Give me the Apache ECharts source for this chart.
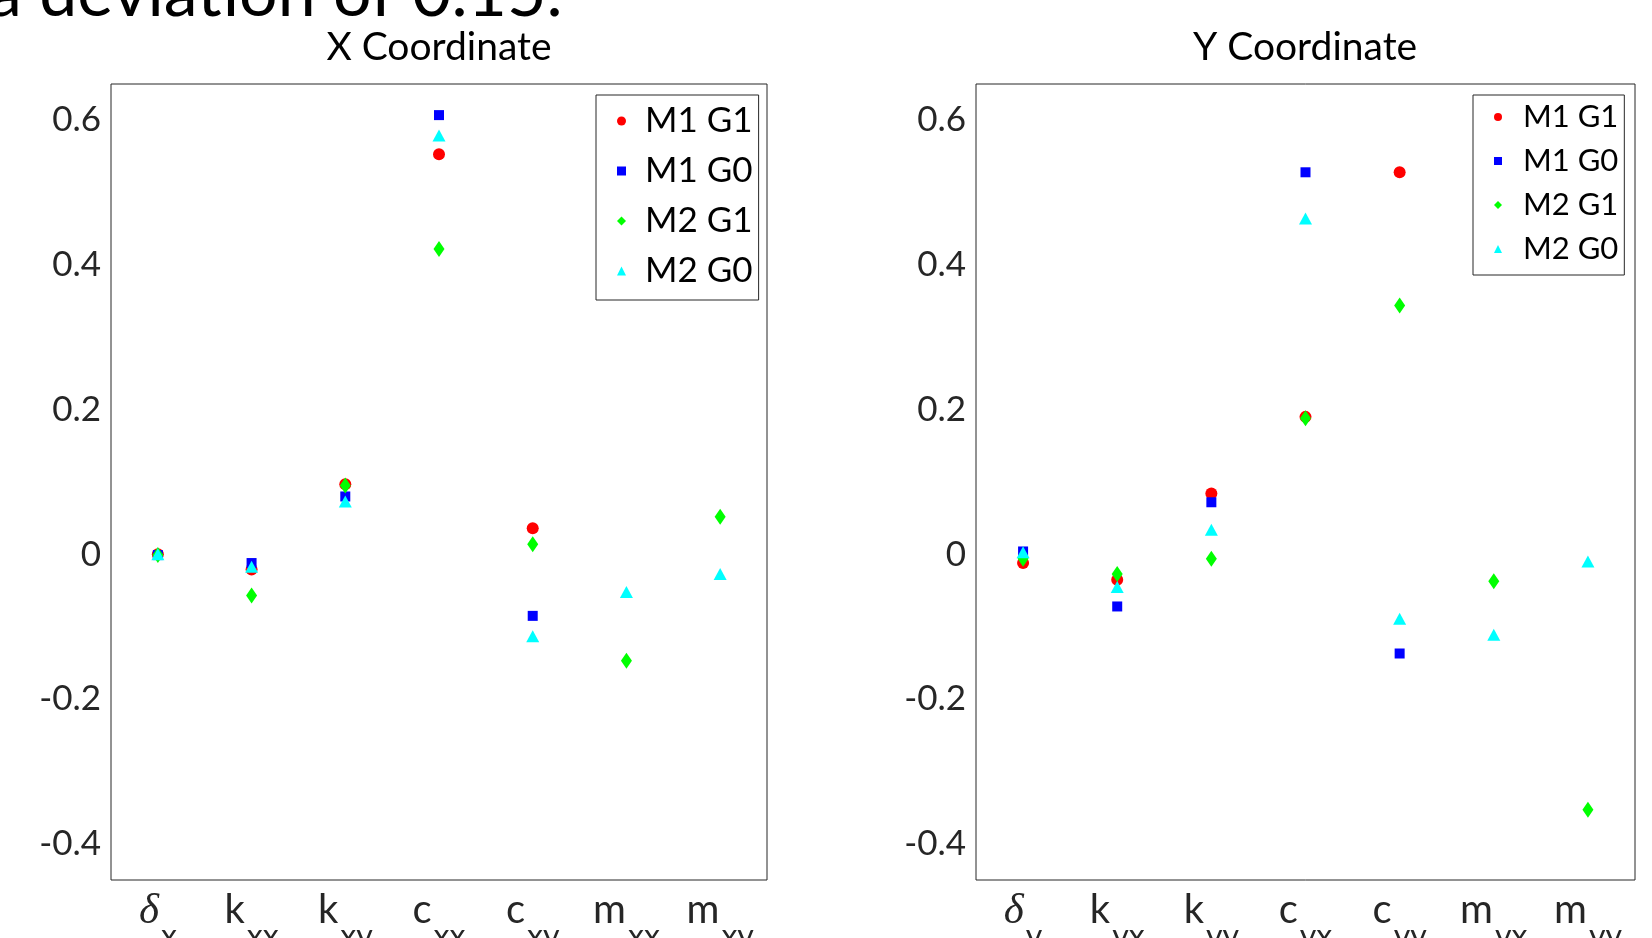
<!DOCTYPE html>
<html>
<head>
<meta charset="utf-8">
<script src="https://cdn.jsdelivr.net/npm/echarts@6/dist/echarts.min.js"></script>
<style>
html,body{margin:0;padding:0;background:#fff;}
#chart{width:1652px;height:938px;}
</style>
</head>
<body>
<div id="chart"></div>
<script>
// categories (main letter _ subscript)
var catsX = ['δ_x', 'k_xx', 'k_xy', 'c_xx', 'c_xy', 'm_xx', 'm_xy'];
var catsY = ['δ_y', 'k_yx', 'k_yy', 'c_yx', 'c_yy', 'm_yx', 'm_yy'];
var names = ['M1 G1', 'M1 G0', 'M2 G1', 'M2 G0'];

// X coordinate panel
var m1g1X = [0.000, -0.021, 0.097, 0.553, 0.036, null, null];
var m1g0X = [-0.001, -0.012, 0.080, 0.607, -0.085, null, null];
var m2g1X = [-0.001, -0.057, 0.095, 0.422, 0.014, -0.147, 0.052];
var m2g0X = [0.000, -0.017, 0.073, 0.579, -0.113, -0.052, -0.027];

// Y coordinate panel
var m1g1Y = [-0.012, -0.035, 0.084, 0.190, 0.528, null, null];
var m1g0Y = [0.004, -0.072, 0.072, 0.528, -0.137, null, null];
var m2g1Y = [-0.006, -0.027, -0.006, 0.188, 0.344, -0.037, -0.353];
var m2g0Y = [0.003, -0.045, 0.034, 0.464, -0.089, -0.111, -0.010];

var yMin = -0.45, yMax = 0.65;

var colors = ['#ff0000', '#0000ff', '#00ff00', '#00ffff'];
var symbols = ['circle', 'rect', 'diamond', 'triangle'];
var sizes = [12, 10, [11, 16], [13, 12]];
var axisColor = '#262626';
var font = 'Lato';

function clean(arr){
	return arr.map(function(v){ return v === null ? '-' : v; });
}

function xLabel(v){
	var p = v.split('_');
	var head = p[0] === 'δ' ? '{d|δ}' : '{m|' + p[0] + '}';
	return head + '{s|' + p[1] + '}';
}

function yLabel(v){
	var k = v * 5;
	if (Math.abs(k - Math.round(k)) > 1e-6) return '';
	return String(+v.toFixed(1));
}

var grids = [
	{left: 111, right: 885, top: 84, bottom: 58},
	{left: 976, right: 17, top: 84, bottom: 58}
];

var xAxes = [], yAxes = [];
[catsX, catsY].forEach(function(cats, g){
	xAxes.push({
		type: 'category', gridIndex: g, data: cats, position: 'bottom',
		axisLine: {show: false},
		axisTick: {inside: true, length: 8, alignWithLabel: true, lineStyle: {color: axisColor}},
		axisLabel: {
			margin: 10, formatter: xLabel, interval: 0,
			rich: {
				m: {fontSize: 40, fontFamily: font, color: axisColor, lineHeight: 44, verticalAlign: 'top'},
				d: {fontSize: 43, fontFamily: 'Liberation Serif', fontStyle: 'italic', color: axisColor, lineHeight: 44, verticalAlign: 'top'},
				s: {fontSize: 32, fontFamily: font, color: axisColor, lineHeight: 34, padding: [31, 0, 0, 2], verticalAlign: 'top'}
			}
		}
	});
	xAxes.push({
		type: 'category', gridIndex: g, data: cats, position: 'top',
		axisLine: {show: false},
		axisTick: {inside: true, length: 8, alignWithLabel: true, lineStyle: {color: axisColor}},
		axisLabel: {show: false}
	});
	yAxes.push({
		type: 'value', gridIndex: g, min: yMin, max: yMax, position: 'left',
		splitLine: {show: false},
		axisLine: {show: false},
		axisTick: {inside: true, length: 8, lineStyle: {color: axisColor}},
		axisLabel: {margin: 10, fontSize: 35, fontFamily: font, color: axisColor,
			showMinLabel: false, showMaxLabel: false, formatter: yLabel}
	});
	yAxes.push({
		type: 'value', gridIndex: g, min: yMin, max: yMax, position: 'right',
		splitLine: {show: false},
		axisLine: {show: false},
		axisTick: {inside: true, length: 8, lineStyle: {color: axisColor}},
		axisLabel: {show: false}
	});
});

var series = [];
[[m1g1X, m1g0X, m2g1X, m2g0X], [m1g1Y, m1g0Y, m2g1Y, m2g0Y]].forEach(function(set, g){
	set.forEach(function(arr, i){
		series.push({
			name: names[i], type: 'scatter',
			xAxisIndex: g * 2, yAxisIndex: g * 2,
			symbol: symbols[i], symbolSize: sizes[i],
			itemStyle: {color: colors[i], opacity: 1},
			data: clean(arr)
		});
	});
});

var legendData = names.map(function(n, i){ return {name: n, icon: symbols[i]}; });

var option = {
	backgroundColor: '#fff',
	animation: false,
	title: [
		{text: 'X Coordinate', left: 439, top: 28, textAlign: 'center', textVerticalAlign: 'top', padding: 0,
			textStyle: {fontSize: 39, fontWeight: 'normal', fontFamily: font, color: '#000'}},
		{text: 'Y Coordinate', left: 1305, top: 28, textAlign: 'center', textVerticalAlign: 'top', padding: 0,
			textStyle: {fontSize: 39, fontWeight: 'normal', fontFamily: font, color: '#000'}}
	],
	graphic: [{
		type: 'text', x: -12, y: 28,
		style: {text: 'a deviation of 0.15.', font: '68px Lato', fill: '#000', verticalAlign: 'bottom'}
	}],
	legend: [
		{left: 596, top: 95, orient: 'vertical', data: legendData, selectedMode: false,
			itemWidth: 9, itemHeight: 9, itemGap: 10, padding: [6, 6, 9, 21],
			borderColor: axisColor, borderWidth: 1, backgroundColor: '#fff',
			textStyle: {fontSize: 35, fontFamily: font, color: '#000', lineHeight: 40, padding: [0, 0, 0, 14]}},
		{left: 1473, top: 95, orient: 'vertical', data: legendData, selectedMode: false,
			itemWidth: 8, itemHeight: 8, itemGap: 8, padding: [4, 6, 8, 21],
			borderColor: axisColor, borderWidth: 1, backgroundColor: '#fff',
			textStyle: {fontSize: 31, fontFamily: font, color: '#000', lineHeight: 36, padding: [0, 0, 0, 16]}}
	],
	grid: grids.map(function(g){
		return {left: g.left, right: g.right, top: g.top, bottom: g.bottom,
			outerBoundsMode: 'none', containLabel: false,
			show: true, borderColor: axisColor, borderWidth: 1, backgroundColor: '#fff'};
	}),
	xAxis: xAxes,
	yAxis: yAxes,
	series: series
};

var chart = echarts.init(document.getElementById('chart'));
chart.setOption(option);
</script>
</body>
</html>
